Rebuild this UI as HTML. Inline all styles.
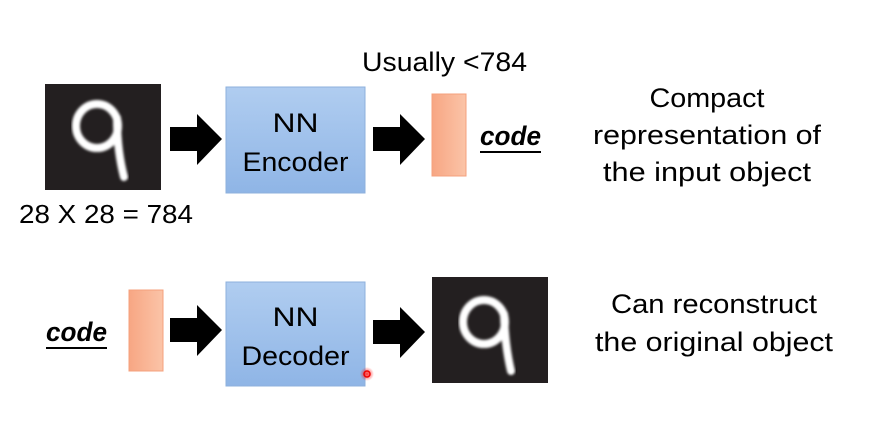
<!DOCTYPE html>
<html><head><meta charset="utf-8"><style>
html,body{margin:0;padding:0;background:#fff;width:870px;height:434px;overflow:hidden}
</style></head><body>
<svg width="870" height="434" viewBox="0 0 870 434" xmlns="http://www.w3.org/2000/svg" font-family="Liberation Sans, sans-serif">
<defs>
<linearGradient id="bl" x1="0" y1="0" x2="0" y2="1"><stop offset="0" stop-color="#b0cdf0"/><stop offset="1" stop-color="#8fb5e6"/></linearGradient>
<linearGradient id="or" x1="0" y1="0" x2="1" y2="0"><stop offset="0" stop-color="#f7a683"/><stop offset="1" stop-color="#fbc4a8"/></linearGradient>
<filter id="bx"><feGaussianBlur stdDeviation="1.4"/></filter>
<radialGradient id="rd"><stop offset="0" stop-color="#f00" stop-opacity="0.8"/><stop offset="1" stop-color="#f00" stop-opacity="0"/></radialGradient>
</defs>
<!-- image 1 -->
<rect x="45" y="84" width="116" height="106" fill="#231f20"/>
<g filter="url(#bx)" stroke="#fff" stroke-width="8" fill="none" stroke-linecap="round">
<ellipse cx="97" cy="126" rx="21" ry="22"/>
<path d="M117 118 Q117 150 124 177"/>
</g>
<text x="19" y="223" font-size="26" textLength="174" lengthAdjust="spacingAndGlyphs">28 X 28 = 784</text>
<!-- arrow 1 -->
<polygon points="170,127 197,127 197,114 222,139 197,165 197,151 170,151" fill="#000"/>
<!-- encoder -->
<rect x="226" y="87" width="139" height="106" fill="url(#bl)" stroke="#8eb0dc" stroke-width="1"/>
<text x="295.5" y="132" font-size="27" text-anchor="middle" textLength="46" lengthAdjust="spacingAndGlyphs">NN</text>
<text x="295.5" y="171" font-size="27" text-anchor="middle" textLength="106" lengthAdjust="spacingAndGlyphs">Encoder</text>
<!-- arrow 2 -->
<polygon points="373,127 400,127 400,114 425,139 400,165 400,151 373,151" fill="#000"/>
<rect x="432" y="94" width="34" height="82" fill="url(#or)" stroke="#f4a07c" stroke-width="1"/>
<text x="480" y="145" font-size="27" font-weight="bold" font-style="italic" textLength="61" lengthAdjust="spacingAndGlyphs">code</text>
<rect x="480" y="151" width="61" height="2" fill="#000"/>
<text x="362" y="71" font-size="27" textLength="165" lengthAdjust="spacingAndGlyphs">Usually &lt;784</text>
<text x="707" y="107" font-size="27" text-anchor="middle" textLength="115" lengthAdjust="spacingAndGlyphs">Compact</text>
<text x="707" y="144" font-size="27" text-anchor="middle" textLength="228" lengthAdjust="spacingAndGlyphs">representation of</text>
<text x="707" y="181" font-size="27" text-anchor="middle" textLength="208" lengthAdjust="spacingAndGlyphs">the input object</text>
<!-- bottom -->
<text x="46" y="341" font-size="27" font-weight="bold" font-style="italic" textLength="61" lengthAdjust="spacingAndGlyphs">code</text>
<rect x="46" y="347" width="61" height="2" fill="#000"/>
<rect x="129" y="290" width="34" height="81" fill="url(#or)" stroke="#f4a07c" stroke-width="1"/>
<polygon points="170,318 197,318 197,305 222,330 197,356 197,342 170,342" fill="#000"/>
<rect x="226" y="282" width="139" height="104" fill="url(#bl)" stroke="#8eb0dc" stroke-width="1"/>
<text x="295.5" y="326" font-size="27" text-anchor="middle" textLength="46" lengthAdjust="spacingAndGlyphs">NN</text>
<text x="295.5" y="365" font-size="27" text-anchor="middle" textLength="108" lengthAdjust="spacingAndGlyphs">Decoder</text>
<polygon points="373,320 400,320 400,307 425,332 400,358 400,344 373,344" fill="#000"/>
<rect x="432" y="277" width="116" height="106" fill="#231f20"/>
<g filter="url(#bx)" stroke="#fff" stroke-width="8" fill="none" stroke-linecap="round">
<ellipse cx="484" cy="322" rx="21" ry="22"/>
<path d="M504 314 Q505 346 511 371"/>
</g>
<circle cx="367" cy="374" r="7" fill="url(#rd)"/>
<circle cx="367" cy="374" r="3" fill="none" stroke="#e00" stroke-width="1.5"/>
<text x="714" y="313" font-size="27" text-anchor="middle" textLength="206" lengthAdjust="spacingAndGlyphs">Can reconstruct</text>
<text x="714" y="351" font-size="27" text-anchor="middle" textLength="238" lengthAdjust="spacingAndGlyphs">the original object</text>
</svg>
</body></html>
